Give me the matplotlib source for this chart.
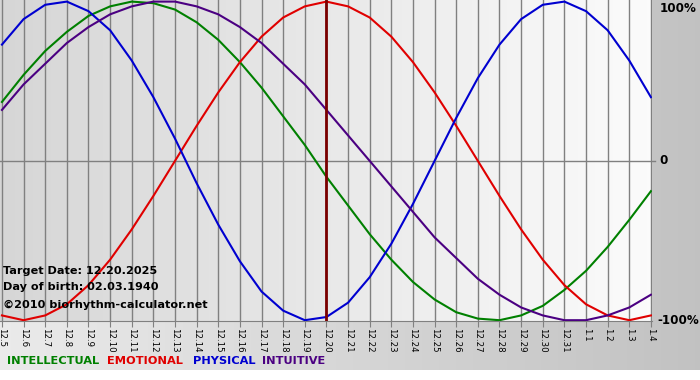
import numpy as np
import matplotlib
matplotlib.use("Agg")
import matplotlib.pyplot as plt
import matplotlib.transforms as mtransforms

# ==============================
# Données (valeurs journalières, -1 .. 1)
# ==============================
jours = ["12.5", "12.6", "12.7", "12.8", "12.9", "12.10", "12.11", "12.12",
         "12.13", "12.14", "12.15", "12.16", "12.17", "12.18", "12.19",
         "12.20", "12.21", "12.22", "12.23", "12.24", "12.25", "12.26",
         "12.27", "12.28", "12.29", "12.30", "12.31", "1.1", "1.2", "1.3", "1.4"]

physique = [0.73, 0.89, 0.98, 1.00, 0.94, 0.82, 0.63, 0.40, 0.14, -0.14,
            -0.40, -0.63, -0.82, -0.94, -1.00, -0.98, -0.89, -0.73, -0.52,
            -0.27, 0.00, 0.27, 0.52, 0.73, 0.89, 0.98, 1.00, 0.94, 0.82,
            0.63, 0.40]

emotionnel = [-0.97, -1.00, -0.97, -0.90, -0.78, -0.62, -0.43, -0.22, 0.00,
              0.22, 0.43, 0.62, 0.78, 0.90, 0.97, 1.00, 0.97, 0.90, 0.78,
              0.62, 0.43, 0.22, 0.00, -0.22, -0.43, -0.62, -0.78, -0.90,
              -0.97, -1.00, -0.97]

intellectuel = [0.37, 0.54, 0.69, 0.81, 0.91, 0.97, 1.00, 0.99, 0.95, 0.87,
                0.76, 0.62, 0.46, 0.28, 0.10, -0.10, -0.28, -0.46, -0.62,
                -0.76, -0.87, -0.95, -0.99, -1.00, -0.97, -0.91, -0.81,
                -0.69, -0.54, -0.37, -0.19]

intuitif = [0.32, 0.48, 0.61, 0.74, 0.84, 0.92, 0.97, 1.00, 1.00, 0.97,
            0.92, 0.84, 0.74, 0.61, 0.48, 0.32, 0.16, 0.00, -0.16, -0.32,
            -0.48, -0.61, -0.74, -0.84, -0.92, -0.97, -1.00, -1.00, -0.97,
            -0.92, -0.84]

jour_cible = "12.20"

couleurs = {"INTELLECTUAL": "#008000", "EMOTIONAL": "#e00000",
            "PHYSICAL": "#0000d0", "INTUITIVE": "#4b0082"}

# ==============================
# Figure et fonds en dégradé
# ==============================
fig = plt.figure(figsize=(7, 3.8), dpi=100)
fig.patch.set_facecolor("white")

fond = fig.add_axes([0, 0, 1, 1])
fond.axis("off")
g = np.linspace(0.92, 0.76, 256)
img = np.dstack([g, g, g]).reshape(1, 256, 3)
fond.imshow(img, extent=[0, 1, 10 / 380, 1], aspect="auto")
fond.set_xlim(0, 1)
fond.set_ylim(0, 1)

ax = fig.add_axes([0, 59 / 380, 652 / 700, 321 / 380])
x = np.arange(len(jours))
xmin, xmax = -0.09, 30.05
ymin, ymax = -1.005, 1.01
g2 = np.linspace(0.84, 0.985, 256)
img2 = np.dstack([g2, g2, g2]).reshape(1, 256, 3)
ax.imshow(img2, extent=[xmin, xmax, ymin, ymax], aspect="auto", zorder=0)
ax.set_xlim(xmin, xmax)
ax.set_ylim(ymin, ymax)

# grille
for xi in x:
    ax.axvline(xi, color="#808080", lw=1, zorder=1)
ax.axhline(0, color="#808080", lw=1, zorder=1, xmax=1.005, clip_on=False)

# courbes
ax.plot(x, intellectuel, color=couleurs["INTELLECTUAL"], lw=1.5, zorder=3)
ax.plot(x, emotionnel, color=couleurs["EMOTIONAL"], lw=1.5, zorder=3)
ax.plot(x, physique, color=couleurs["PHYSICAL"], lw=1.5, zorder=3)
ax.plot(x, intuitif, color=couleurs["INTUITIVE"], lw=1.5, zorder=3)

# ligne du jour cible
ax.axvline(jours.index(jour_cible), color="#7a0000", lw=2, zorder=4)

# axes
for s in ["top", "right", "left"]:
    ax.spines[s].set_visible(False)
ax.spines["bottom"].set_color("#808080")
ax.set_yticks([])
ax.set_xticks(x)
ax.set_xticklabels(jours, rotation=-90, fontsize=6.2, va="top", ha="center")
ax.tick_params(axis="x", length=4, color="#808080", pad=1)

# étiquettes à droite
tr = mtransforms.blended_transform_factory(ax.transAxes, ax.transData)
ax.text(1.012, 1.0, "100%", transform=tr, fontsize=8.6, fontweight="bold",
        va="top", ha="left")
ax.text(1.012, 0, "0", transform=tr, fontsize=8.6, fontweight="bold",
        va="center", ha="left")
ax.text(1.008, -1.0, "-100%", transform=tr, fontsize=8.6, fontweight="bold",
        va="center", ha="left")

# texte d'information
ax.text(0.005, 0.156, "Target Date: 12.20.2025", transform=ax.transAxes,
        fontsize=8.1, fontweight="bold", va="center", zorder=5)
ax.text(0.005, 0.106, "Day of birth: 02.03.1940", transform=ax.transAxes,
        fontsize=8.1, fontweight="bold", va="center", zorder=5)
ax.text(0.005, 0.050, "\u00a92010 biorhythm-calculator.net",
        transform=ax.transAxes, fontsize=8.1, fontweight="bold",
        va="center", zorder=5)

# légende
positions = {"INTELLECTUAL": 7, "EMOTIONAL": 107, "PHYSICAL": 193,
             "INTUITIVE": 262}
for nom, px in positions.items():
    fig.text(px / 700, (380 - 361) / 380, nom, color=couleurs[nom],
             fontsize=8.2, fontweight="bold", va="center", ha="left")

fig.savefig("out.png", dpi=100)
